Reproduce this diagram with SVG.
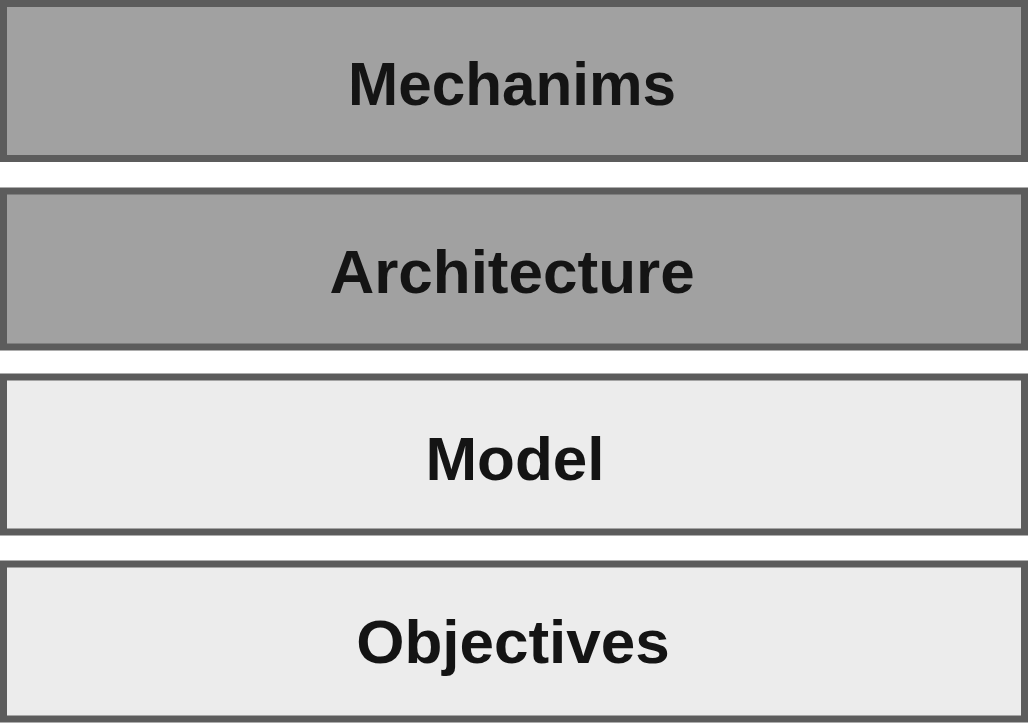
<svg xmlns="http://www.w3.org/2000/svg" width="1029" height="725" viewBox="0 0 1029 725">
  <style>
    .layer { stroke: #5c5c5c; stroke-width: 7; }
    .dark { fill: #a1a1a1; }
    .light { fill: #ececec; }
    .label { font-family: "Liberation Sans", Arial, sans-serif; font-weight: bold; font-size: 62px; fill: #141414; text-anchor: middle; }
  </style>
  <rect width="1029" height="725" fill="#ffffff"/>
  <g id="mechanisms">
    <rect class="layer dark" x="3.5" y="3.5" width="1021" height="155"/>
    <text class="label" x="512" y="105" textLength="328" lengthAdjust="spacingAndGlyphs">Mechanims</text>
  </g>
  <g id="architecture">
    <rect class="layer dark" x="3.5" y="191" width="1021" height="156"/>
    <text class="label" x="512" y="293">Architecture</text>
  </g>
  <g id="model">
    <rect class="layer light" x="3.5" y="377" width="1021" height="155"/>
    <text class="label" x="515" y="480">Model</text>
  </g>
  <g id="objectives">
    <rect class="layer light" x="3.5" y="564" width="1021" height="155"/>
    <text class="label" x="513" y="663">Objectives</text>
  </g>
</svg>
